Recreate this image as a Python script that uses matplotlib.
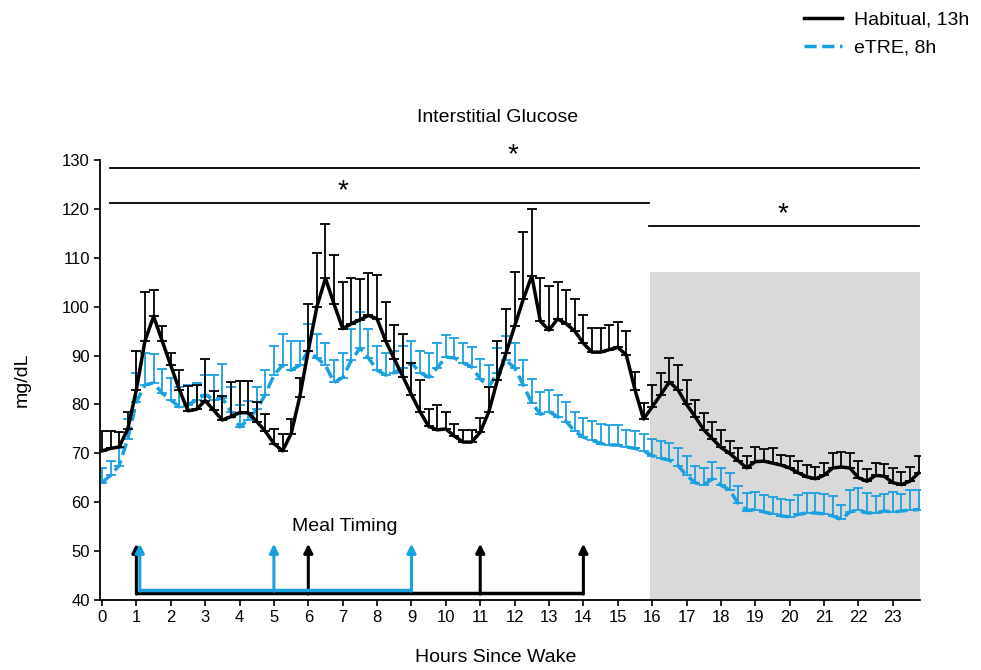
import numpy as np
import matplotlib
matplotlib.use('Agg')
from matplotlib import pyplot as plt

plt.rcParams['font.family'] = ['Liberation Sans', 'DejaVu Sans']

# glucose every 15 min since wake
hours = np.arange(0, 24, 0.25)

habitual = [70.5, 71.0, 71.3, 75.0,
            83.0, 93.0, 98.0, 93.0,
            88.0, 83.0, 78.7, 79.0,
            80.8, 78.8, 76.8, 77.5,
            78.3, 78.3, 76.5, 74.5,
            72.0, 70.5, 74.0, 81.5,
            91.0, 100.0, 105.8, 100.5,
            95.5, 96.5, 97.3, 98.2,
            97.5, 93.0, 89.3, 85.7,
            82.0, 78.5, 75.5, 74.8,
            75.0, 73.5, 72.3, 72.3,
            74.3, 78.5, 85.0, 90.5,
            96.0, 101.5, 106.3, 97.0,
            95.2, 97.5, 96.5, 95.0,
            92.5, 90.7, 90.7, 91.2,
            91.7, 90.1, 83.0, 77.0,
            79.5, 82.0, 84.6, 83.0,
            80.0, 77.5, 74.8, 73.0,
            71.2, 70.0, 68.5, 67.0,
            68.3, 68.4, 68.0, 67.6,
            67.0, 66.0, 65.2, 64.8,
            65.5, 67.0, 67.2, 67.0,
            65.0, 64.3, 65.5, 65.3,
            64.0, 63.6, 64.3, 66.0]
habitual_err = [4, 3.5, 3, 3.5,
                8, 10, 5.5, 3,
                2.5, 4, 5, 5,
                8.5, 4, 5, 7,
                6.5, 6.5, 4, 3.5,
                3, 3.5, 3, 4,
                9.5, 11, 11.2, 10,
                9.6, 9.3, 8.3, 8.7,
                9, 8, 7, 8.7,
                6.4, 6.6, 3.5, 5,
                3.5, 2.5, 2.5, 2.5,
                3, 5, 8, 9,
                11, 13.7, 13.7, 8.8,
                9, 7.6, 7, 6.6,
                5.7, 5, 5, 5,
                5.2, 5, 3.6, 3.3,
                4.5, 4.5, 5, 5,
                5, 3.5, 3.5, 3.5,
                3.5, 2.5, 2.5, 2.5,
                3, 2.5, 3, 2,
                2.5, 2.5, 2.5, 2.5,
                2.5, 3, 3, 3,
                3.5, 2.5, 2.5, 2.5,
                3, 2.5, 3, 3.5]

etre = [64.0, 65.5, 67.5, 73.0,
        80.5, 84.0, 84.4, 82.3,
        80.9, 79.5, 79.9, 80.9,
        82.0, 81.0, 81.3, 78.5,
        75.4, 76.8, 79.0, 82.0,
        86.0, 88.0, 87.0, 88.0,
        91.0, 89.5, 88.0, 84.5,
        85.5, 89.0, 91.5, 89.5,
        87.0, 86.0, 86.5, 87.5,
        88.5, 86.5, 85.6, 87.5,
        89.7, 89.5, 88.5, 87.7,
        85.2, 83.6, 86.5, 89.0,
        87.5, 84.0, 80.3, 78.0,
        78.5, 77.5, 76.5, 74.5,
        73.3, 72.7, 72.0, 71.7,
        71.7, 71.3, 71.0, 70.5,
        69.5, 69.0, 68.6, 67.5,
        65.5, 64.0, 63.5, 64.8,
        63.5, 62.5, 59.8, 58.3,
        58.5, 58.0, 57.6, 57.2,
        57.0, 57.5, 57.8, 57.8,
        57.6, 57.2, 56.5, 58.0,
        58.4, 57.8, 57.8, 58.2,
        58.0, 58.2, 58.4, 58.5]
etre_err = [3, 3, 3.5, 4,
            6, 6.5, 6, 5,
            4.5, 4, 4, 3.5,
            4, 5, 7, 5,
            4.5, 4, 4.5, 5,
            6, 6.5, 6, 5,
            5.5, 5, 4.5, 4.5,
            5, 6.5, 7.5, 6,
            5, 4.5, 4.5, 4.5,
            4.5, 4.5, 5, 5,
            4.5, 4, 4, 4,
            4, 4.5, 5, 5,
            5, 5, 5, 4.5,
            4.5, 4.5, 4, 4,
            4, 4, 4, 4,
            4, 3.5, 3.5, 3.5,
            3.5, 3.5, 3.5, 3.5,
            4, 3.5, 3.5, 3.5,
            3.5, 3.5, 3.5, 3.5,
            3.5, 3.5, 3.5, 3.5,
            3.5, 4, 4, 4,
            4, 4, 3, 4.5,
            4.5, 4, 3.5, 3.5,
            4, 3.5, 4, 4]

meals_habitual = [1, 6, 11, 14]
meals_etre = [1.1, 5, 9]

blue = '#1aa0e0'

fig = plt.figure(figsize=(9.81, 6.70), dpi=100)
ax = fig.add_axes([0.1022, 0.1045, 0.836, 0.6567])

# grey night box
ax.fill_between([15.93, 23.78], 40, 107, color='#d9d9d9', zorder=0, lw=0)

z = np.zeros(len(hours))
ax.errorbar(hours, etre, yerr=[z, etre_err], fmt='none', ecolor=blue, elinewidth=1.3, capsize=3.5, capthick=1.3, zorder=2)
ax.plot(hours, etre, color=blue, lw=2.5, ls=(0, (3.5, 1.6)), zorder=3)
ax.errorbar(hours, habitual, yerr=[z, habitual_err], fmt='none', ecolor='black', elinewidth=1.3, capsize=3.5, capthick=1.3, zorder=4)
ax.plot(hours, habitual, color='black', lw=2.5, zorder=5)

# meal timing arrows
ax.plot([meals_habitual[0], meals_habitual[-1]], [41.4, 41.4], color='black', lw=2.5, zorder=6, solid_capstyle='butt')
ax.plot([meals_etre[0], meals_etre[-1]], [42.0, 42.0], color=blue, lw=2.5, zorder=7, solid_capstyle='butt')
for m in meals_habitual:
    ax.annotate('', xy=(m, 51.5), xytext=(m, 41.2),
                arrowprops=dict(arrowstyle='-|>', color='black', lw=2.2, mutation_scale=13, shrinkA=0, shrinkB=0), zorder=6)
for m in meals_etre:
    ax.annotate('', xy=(m, 51.5), xytext=(m, 41.8),
                arrowprops=dict(arrowstyle='-|>', color=blue, lw=2.2, mutation_scale=13, shrinkA=0, shrinkB=0), zorder=7)
ax.text(7.05, 55, 'Meal Timing', ha='center', va='center', fontsize=14)

# significance bars
for x0, x1, yy, sx, sy in [(0.23, 23.76, 128.4, 11.95, 131.0),
                            (0.23, 15.9, 121.2, 7.0, 123.6),
                            (15.9, 23.76, 116.5, 19.8, 119.0)]:
    ax.plot([x0, x1], [yy, yy], color='black', lw=1.3, clip_on=False)
    ax.text(sx, sy, '*', ha='center', va='center', fontsize=20, clip_on=False)

ax.set_xlim(-0.05, 23.8)
ax.set_ylim(40, 130)
ax.set_xticks(range(0, 24))
ax.set_yticks(range(40, 131, 10))
ax.tick_params(labelsize=12, length=4, width=1.2, direction='out')
for s in ['top', 'right']:
    ax.spines[s].set_visible(False)
for s in ['left', 'bottom']:
    ax.spines[s].set_linewidth(1.3)

fig.text(0.507, 1 - 117 / 670, 'Interstitial Glucose', ha='center', va='center', fontsize=14)
fig.text(0.505, 1 - 658 / 670, 'Hours Since Wake', ha='center', va='center', fontsize=14)
fig.text(0.023, 1 - 380 / 670, 'mg/dL', ha='center', va='center', rotation=90, fontsize=14)

h1, = ax.plot([], [], color='black', lw=2.5)
h2, = ax.plot([], [], color=blue, lw=2.5, ls=(0, (3.5, 1.6)))
fig.legend([h1, h2], ['Habitual, 13h', 'eTRE, 8h'], loc='upper right', bbox_to_anchor=(1.006, 1.01),
           frameon=False, fontsize=14, handlelength=2.0, handletextpad=0.6, labelspacing=0.55)

fig.savefig('out.png', dpi=100)
